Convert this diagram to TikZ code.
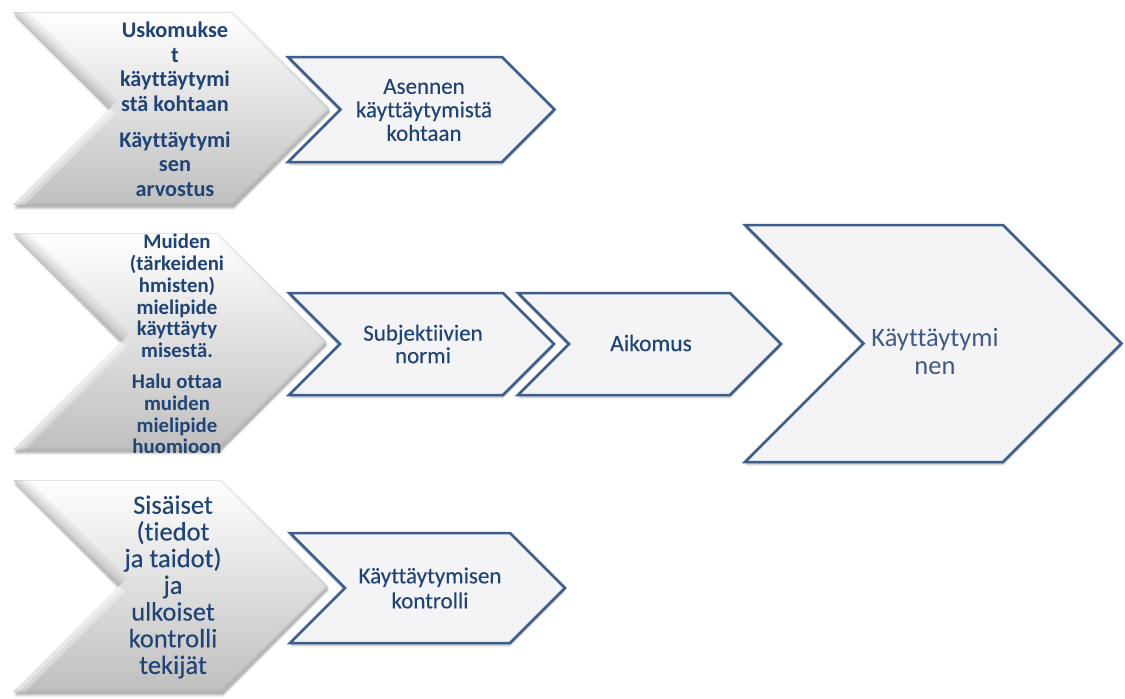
\documentclass[tikz,border=0pt]{standalone}
\usepackage{fontspec}
\setmainfont{Carlito}[Ligatures=NoCommon]
\newfontfamily\heavier[FakeBold=0.25,Ligatures=NoCommon]{Carlito}
\definecolor{txtblue}{RGB}{33,68,118}
\definecolor{bigtxt}{RGB}{64,90,132}
\definecolor{edgeblue}{RGB}{60,94,140}
\definecolor{boxfill}{RGB}{244,244,246}

% gray bevelled chevron: left x, top y, bottom y, x of the upper right corner
\newcommand\graychev[4]{%
  \pgfmathsetmacro\hh{(#3-#2)/2}%
  \pgfmathsetmacro\my{(#2+#3)/2}%
  \foreach \s/\o in {5/0.05,4/0.07,3/0.09,2/0.1}{%
    \fill[black,opacity=\o,shift={(1,\s)}]
      (#1,#2) -- (#4,#2) -- (#4+\hh,\my) -- (#4,#3) -- (#1,#3) -- (#1+\hh,\my) -- cycle;}
  \shade[top color=white,middle color=black!5,bottom color=black!25]
    (#1,#2) -- (#4,#2) -- (#4+\hh,\my) -- (#4,#3) -- (#1,#3) -- (#1+\hh,\my) -- cycle;
  \begin{scope}
    \clip (#1,#2) -- (#4,#2) -- (#4+\hh,\my) -- (#4,#3) -- (#1,#3) -- (#1+\hh,\my) -- cycle;
    % shaded band along the upper edge of the notch
    \foreach \w in {22,14,8,4}{%
      \draw[black!60,opacity=0.08,line width=\w pt] (#1,#2) -- (#1+\hh,\my);}
    % light band along the lower edge of the notch
    \foreach \w in {16,8}{%
      \draw[white,opacity=0.35,line width=\w pt] (#1+\hh,\my) -- (#1,#3);}
    % thin rim on the right and at the bottom
    \foreach \w in {5,2}{%
      \draw[black!55,opacity=0.08,line width=\w pt] (#4,#2) -- (#4+\hh,\my) -- (#4,#3) -- (#1,#3);}
    \draw[black!20,opacity=0.5,line width=1.5pt] (#1,#2) -- (#4,#2);
  \end{scope}
}

% outlined chevron: left x, top y, bottom y, x of the upper right corner
\newcommand\linechev[4]{%
  \pgfmathsetmacro\hh{(#3-#2)/2}%
  \pgfmathsetmacro\my{(#2+#3)/2}%
  \foreach \s/\o in {4/0.06,3/0.08,2/0.1}{%
    \fill[black,opacity=\o,shift={(0,\s)}]
      (#1,#2) -- (#4,#2) -- (#4+\hh,\my) -- (#4,#3) -- (#1,#3) -- (#1+\hh,\my) -- cycle;}
  \draw[fill=boxfill,draw=edgeblue,line width=2.5pt,line join=miter]
    (#1,#2) -- (#4,#2) -- (#4+\hh,\my) -- (#4,#3) -- (#1,#3) -- (#1+\hh,\my) -- cycle;
}

\tikzset{
  lbl/.style={inner sep=0pt,align=center,text=txtblue},
}

\begin{document}
\begin{tikzpicture}[x=1pt,y=-1pt]
\useasboundingbox (0,0) rectangle (1125,699);
\fill[white] (0,0) rectangle (1125,699);

% left column: gray chevrons
\graychev{13}{12}{205}{233}
\graychev{13}{233}{450}{218}
\graychev{13}{480}{692}{222}

% outlined chevrons
\linechev{288}{57}{162}{502}
\linechev{289}{293}{395}{503}
\linechev{518}{293}{395}{730}
\linechev{290}{533}{643}{510}
\linechev{745}{225}{462}{1003}

% labels of the gray chevrons
\node[lbl,font=\bfseries\fontsize{22.3}{24.5}\selectfont] (g1a) at (175,67)
  {Uskomukse\\t\\käyttäytymi\\stä kohtaan};
\node[lbl,font=\bfseries\fontsize{22.3}{24.5}\selectfont] (g1b) at (175,164)
  {Käyttäytymi\\sen\\arvostus};
\node[lbl,font=\bfseries\fontsize{20.8}{21.7}\selectfont] (g2a) at (177,296)
  {Muiden\\(tärkeideni\\hmisten)\\mielipide\\käyttäyty\\misestä.};
\node[lbl,font=\bfseries\fontsize{20.8}{21.7}\selectfont] (g2b) at (177,414)
  {Halu ottaa\\muiden\\mielipide\\huomioon};
\node[lbl,font=\heavier\fontsize{26.5}{26.7}\selectfont] (g3) at (173,587)
  {Sisäiset\\(tiedot\\ja taidot)\\ja\\ulkoiset\\kontrolli\\tekijät};

% labels of the outlined chevrons
\node[lbl,font=\heavier\fontsize{23}{23.5}\selectfont] (att) at (424,110)
  {Asennen\\käyttäytymistä\\kohtaan};
\node[lbl,font=\heavier\fontsize{23}{22.5}\selectfont] (norm) at (423,344)
  {Subjektiivien\\normi};
\node[lbl,font=\heavier\fontsize{23.5}{24}\selectfont] (aik) at (651,343) {Aikomus};
\node[lbl,font=\heavier\fontsize{23}{25}\selectfont] (ctrl) at (430,588)
  {Käyttäytymisen\\kontrolli};
\node[lbl,text=bigtxt,font=\fontsize{26.5}{28}\selectfont] (beh) at (935,351)
  {Käyttäytymi\\nen};
\end{tikzpicture}
\end{document}
